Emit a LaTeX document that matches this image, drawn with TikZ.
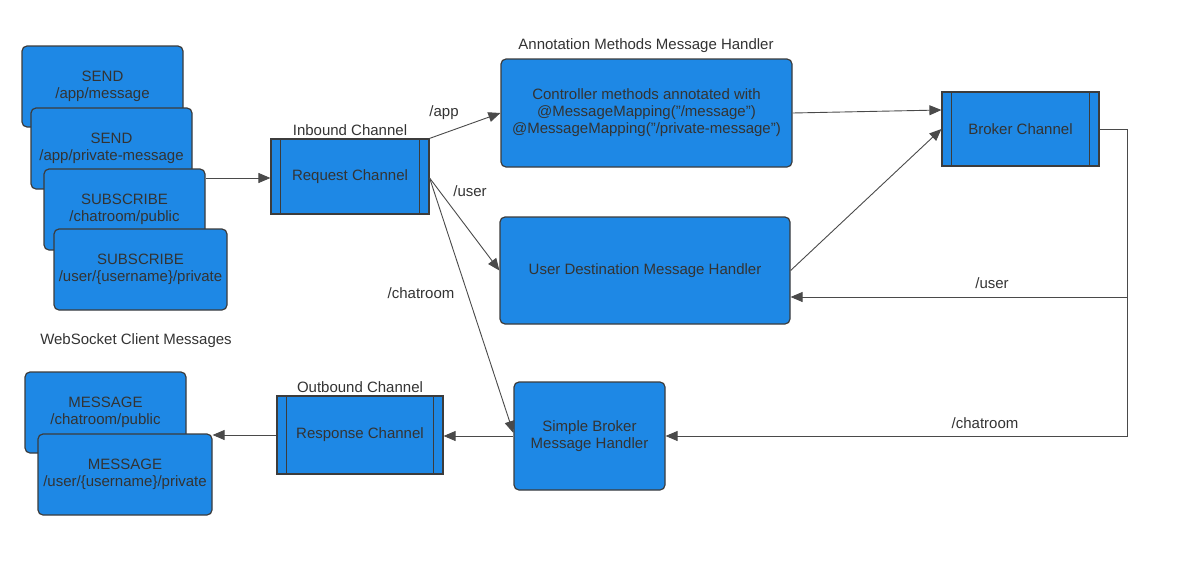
\documentclass[tikz,border=0pt]{standalone}
\usepackage{fontspec}
\setmainfont{Liberation Sans}
\usetikzlibrary{arrows.meta,calc}
\definecolor{boxfill}{HTML}{1E88E5}
\definecolor{boxline}{HTML}{3C3C3C}
\definecolor{txt}{HTML}{333333}
\definecolor{conn}{HTML}{4A4A4A}
\begin{document}
\begin{tikzpicture}[x=1pt,y=-1pt,
  every node/.style={font=\fontsize{15}{17}\selectfont, text=txt, inner sep=0pt},
  msgbox/.style={draw=boxline, fill=boxfill, line width=1.2pt, rounded corners=5pt, align=center},
  chanbox/.style={draw=boxline, fill=boxfill, line width=1.2pt, align=center},
  conline/.style={draw=conn, line width=0.9pt},
  arr/.style={conline, -{Triangle[length=12pt,width=10pt]}},
  lbl/.style={text=txt}
]
\useasboundingbox (0,0) rectangle (1183,565);

% client stack (inbound)
\node[msgbox, minimum width=161, minimum height=81] (s1) at (102.5,86.5) {SEND\\/app/message};
\node[msgbox, minimum width=161, minimum height=81] (s2) at (111.5,148.5) {SEND\\/app/private-message};
\node[msgbox, minimum width=161, minimum height=81] (s3) at (124.5,209.5) {SUBSCRIBE\\/chatroom/public};
\node[msgbox, minimum width=173, minimum height=81] (s4) at (140.5,269.5) {SUBSCRIBE\\/user/\{username\}/private};
\node[lbl] (wsc) at (136,341) {WebSocket Client Messages};

% outbound messages
\node[msgbox, minimum width=161, minimum height=81] (m1) at (105.5,412.5) {MESSAGE\\/chatroom/public};
\node[msgbox, minimum width=174, minimum height=81] (m2) at (125,474.5) {MESSAGE\\/user/\{username\}/private};

% channels
\node[chanbox, minimum width=158, minimum height=75] (rc) at (350,176.5) {Request Channel};
\node[lbl] (rct) at (350,130) {Inbound Channel};
\node[chanbox, minimum width=157, minimum height=74] (bc) at (1020.5,129) {Broker Channel};
\node[chanbox, minimum width=166, minimum height=78] (rs) at (360,435) {Response Channel};
\node[lbl] (rst) at (360,387) {Outbound Channel};
\foreach \n in {rc,bc,rs}{
  \draw[boxline, line width=1.2pt] ($(\n.north west)+(10,0)$) -- ($(\n.south west)+(10,0)$);
  \draw[boxline, line width=1.2pt] ($(\n.north east)+(-10,0)$) -- ($(\n.south east)+(-10,0)$);
}

% handlers
\node[msgbox, minimum width=291, minimum height=108] (ctrl) at (646.5,113) {Controller methods annotated with\\@MessageMapping("/message")\\@MessageMapping("/private-message")};
\node[lbl] (ctrlt) at (646,46) {Annotation Methods Message Handler};
\node[msgbox, minimum width=290, minimum height=107] (ud) at (645,270.5) {User Destination Message Handler};
\node[msgbox, minimum width=151, minimum height=108] (sb) at (589.5,436) {Simple Broker\\Message Handler};

% connectors
\draw[arr] ($(s3.east |- rc.west)+(0,1.5)$) -- ($(rc.west)+(0,1.5)$);
\draw[arr] (rc.north east) -- (ctrl.west);
\node[lbl] (lapp) at (444,113) {/app};
\draw[arr] ($(rc.east)+(0,1.5)$) -- (ud.west);
\node[lbl] (luser1) at (470,191) {/user};
\draw[arr] ($(rc.east)+(0,1.5)$) -- ($(sb.west)+(0,-3)$);
\node[lbl] (lchat1) at (421,293) {/chatroom};
\draw[arr] (ctrl.east) -- ($(bc.west)+(0,-19)$);
\draw[arr] (ud.east) -- (bc.west);

\coordinate (c1) at (1127,129);
\coordinate (j) at (1127,297);
\draw[arr] (bc.east) -- (c1) |- (sb.east);
\draw[arr] (j) -- (j -| ud.east);
\node[lbl] (luser2) at (992,283) {/user};
\node[lbl] (lchat2) at (985,423) {/chatroom};

\draw[arr] (sb.west) -- (sb.west -| rs.east);
\draw[arr] (rs.west) -- (rs.west -| m2.east);
\end{tikzpicture}
\end{document}
